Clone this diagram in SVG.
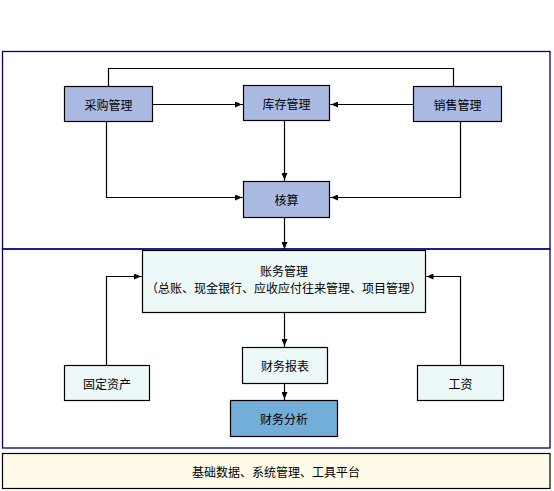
<svg xmlns="http://www.w3.org/2000/svg" width="554" height="491" viewBox="0 0 554 491">
<style>
.frame{fill:none;stroke:#000080;stroke-width:1.3}
.box{stroke:#000;stroke-width:1.2}
.blue{fill:#AABAE2}
.cyan{fill:#EDF8F8}
.dark{fill:#73AED9}
.base{fill:#FFFBE8}
text{font-family:"Noto Sans CJK SC","Noto Sans",sans-serif;font-size:12px;fill:#000;text-anchor:middle;dominant-baseline:central}
.conn path{fill:none;stroke:#000;stroke-width:1.2}
</style>
<defs>
<marker id="ah" viewBox="0 0 8 6" refX="8" refY="3" markerWidth="8" markerHeight="6" markerUnits="userSpaceOnUse" orient="auto">
<path d="M0,0 L7,3 L0,6 Z" fill="#000"/>
</marker>
</defs>
<rect width="554" height="491" fill="#fff"/>
<rect class="frame" x="2.5" y="51.5" width="547.5" height="197.5"/>
<rect class="frame" x="2.5" y="249" width="547.5" height="199"/>
<g id="base"><rect class="box base" x="2.5" y="453.5" width="547.5" height="35"/><text x="276" y="471">基础数据、系统管理、工具平台</text></g>
<g class="conn">
<path d="M108.5,86 V68.5 H453.5 V86"/>
<path d="M153,104.5 H243" marker-end="url(#ah)"/>
<path d="M413,104.5 H330" marker-end="url(#ah)"/>
<path d="M106.5,121 V197.5 H243" marker-end="url(#ah)"/>
<path d="M460.5,121 V197.5 H330" marker-end="url(#ah)"/>
<path d="M284.5,120 V181" marker-end="url(#ah)"/>
<path d="M284.5,217 V250" marker-end="url(#ah)"/>
<path d="M106.5,365 V276.5 H142" marker-end="url(#ah)"/>
<path d="M460.5,365 V276.5 H425.5" marker-end="url(#ah)"/>
<path d="M284.5,312 V347" marker-end="url(#ah)"/>
<path d="M284.5,383 V400" marker-end="url(#ah)"/>
</g>
<g id="purchase"><rect class="box blue" x="64.5" y="86.5" width="88" height="35"/><text x="108.5" y="104">采购管理</text></g>
<g id="inventory"><rect class="box blue" x="243.5" y="85.5" width="86" height="35"/><text x="286.5" y="103">库存管理</text></g>
<g id="sales"><rect class="box blue" x="413.5" y="86.5" width="88" height="35"/><text x="457.5" y="104">销售管理</text></g>
<g id="accounting"><rect class="box blue" x="243.5" y="181.5" width="86" height="36"/><text x="286.5" y="199">核算</text></g>
<g id="ledger"><rect class="box cyan" x="142.5" y="250.5" width="283" height="62"/><text x="284" y="270.5">账务管理</text><text x="284" y="287.5">（总账、现金银行、应收应付往来管理、项目管理）</text></g>
<g id="assets"><rect class="box cyan" x="64.5" y="365.5" width="85" height="35"/><text x="107" y="383">固定资产</text></g>
<g id="salary"><rect class="box cyan" x="417.5" y="365.5" width="86" height="35"/><text x="460.5" y="383">工资</text></g>
<g id="report"><rect class="box cyan" x="242.5" y="347.5" width="85" height="36"/><text x="285" y="365">财务报表</text></g>
<g id="analysis"><rect class="box dark" x="230.5" y="400.5" width="107" height="36"/><text x="284" y="418">财务分析</text></g>
</svg>
